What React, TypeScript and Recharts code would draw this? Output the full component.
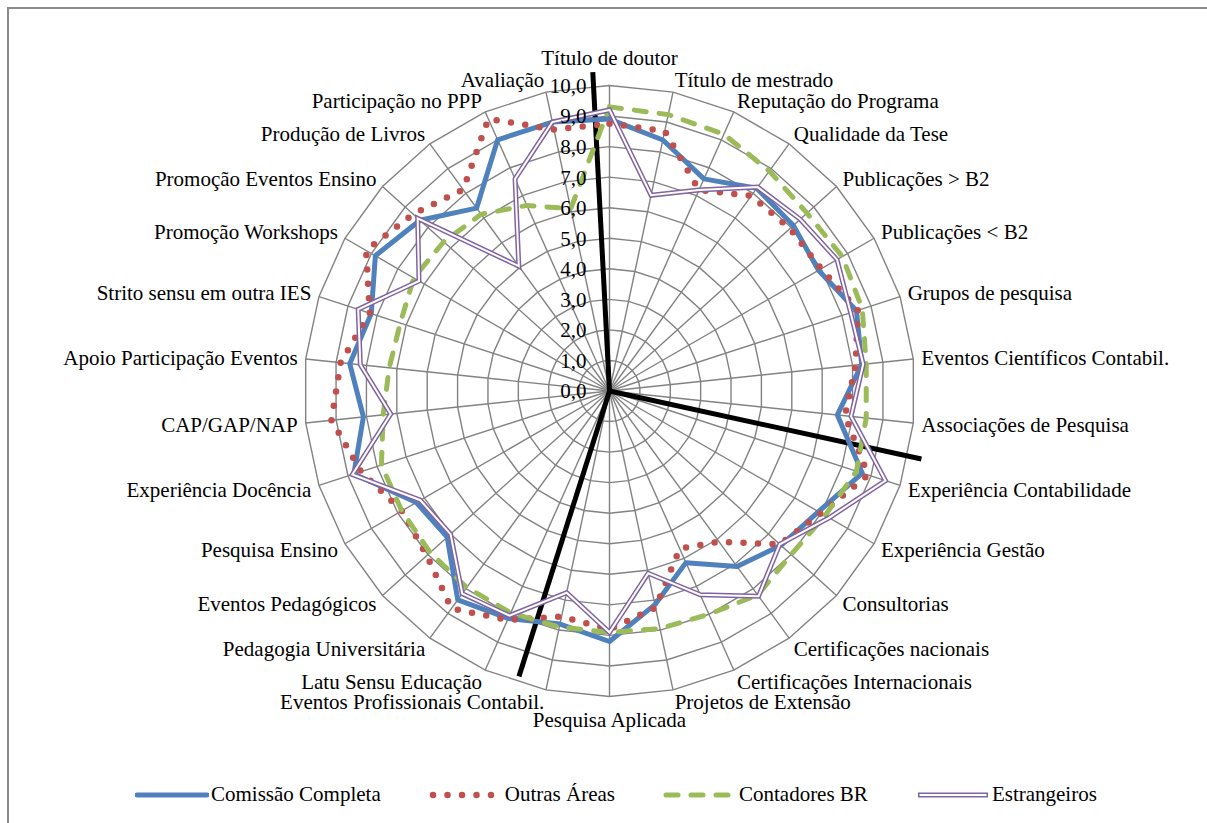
import { RadarChart, Radar, PolarGrid, PolarAngleAxis, PolarRadiusAxis, Legend, Customized } from 'recharts';

const categories = [
  'Título de doutor', 'Título de mestrado', 'Reputação do Programa', 'Qualidade da Tese',
  'Publicações > B2', 'Publicações < B2', 'Grupos de pesquisa', 'Eventos Científicos Contabil.',
  'Associações de Pesquisa', 'Experiência Contabilidade', 'Experiência Gestão', 'Consultorias',
  'Certificações nacionais', 'Certificações Internacionais', 'Projetos de Extensão', 'Pesquisa Aplicada',
  'Eventos Profissionais Contabil.', 'Latu Sensu Educação', 'Pedagogia Universitária', 'Eventos Pedagógicos',
  'Pesquisa Ensino', 'Experiência Docência', 'CAP/GAP/NAP', 'Apoio Participação Eventos',
  'Strito sensu em outra IES', 'Promoção Workshops', 'Promoção Eventos Ensino', 'Produção de Livros',
  'Participação no PPP', 'Avaliação',
];

const comissaoCompleta = [
  8.9, 8.4, 7.6, 8.2, 8.1, 7.9, 8.5, 8.3, 7.5, 8.7, 7.9, 7.55, 7.1, 6.15, 7.15,
  8.2, 7.8, 8.15, 8.45, 7.15, 7.3, 8.8, 8.1, 8.55, 8.2, 8.85, 8.35, 7.4, 9.0, 9.0,
];
const outrasAreas = [
  8.75, 8.7, 7.2, 7.9, 7.95, 8.0, 8.55, 8.1, 7.75, 8.9, 8.0, 7.5, 6.1, 5.65, 7.25,
  7.8, 7.55, 8.2, 8.8, 8.05, 7.85, 8.55, 9.15, 8.85, 8.25, 9.2, 8.65, 8.15, 9.75, 8.75,
];
const contadoresBR = [
  9.3, 9.25, 9.2, 8.9, 8.7, 8.8, 8.7, 8.45, 8.45, 8.5, 8.15, 8.0, 8.25, 8.0, 7.95,
  7.9, 7.9, 7.95, 7.95, 7.9, 7.85, 7.85, 7.45, 7.25, 7.2, 7.4, 7.3, 7.15, 6.65, 6.1,
];
const estrangeiros = [
  9.2, 6.55, 7.2, 8.25, 8.4, 8.6, 8.3, 8.35, 7.95, 9.5, 8.3, 7.5, 8.3, 7.3, 6.1,
  7.9, 6.75, 8.05, 8.2, 7.0, 7.15, 8.85, 7.2, 8.2, 8.65, 7.2, 8.45, 5.05, 7.6, 9.0,
];

const radiusDomain = [0, 10];
const radiusTickCount = 11;

// linhas pretas de separação: direção (graus, sentido horário a partir do topo) e comprimento em unidades do eixo
const separators = [
  { bearing: 357, length: 10.45 },
  { bearing: 102.3, length: 10.45 },
  { bearing: 197.6, length: 9.8 },
];

const data = categories.map((label, i) => ({
  label,
  comissao: comissaoCompleta[i],
  outras: outrasAreas[i],
  contadores: contadoresBR[i],
  estrangeiros: estrangeiros[i],
}));

const CX = 609.5;
const CY = 391;
const OUTER = 305.5;
const FONT = '"Liberation Serif", "Times New Roman", serif';

const BLUE = '#4F81BD';
const RED = '#C0504D';
const GREEN = '#9BBB59';
const PURPLE = '#8064A2';

const AngleTick = (props: any) => {
  const { x, y, payload } = props;
  const t = ((90 - payload.coordinate) * Math.PI) / 180;
  const s = Math.sin(t);
  const c = Math.cos(t);
  let anchor = 'middle';
  let ty = y;
  if (Math.abs(s) < 0.01) {
    ty = c > 0 ? y - 20 : y + 15;
  } else {
    anchor = s > 0 ? 'start' : 'end';
    ty = y - 4.5 * c;
  }
  return (
    <text x={x} y={ty} dy="0.35em" textAnchor={anchor} fontSize={21} fontFamily={FONT} fill="#000">
      {payload.value}
    </text>
  );
};

const RadiusTick = (props: any) => {
  const { x, y, payload } = props;
  return (
    <text x={x - 23} y={y} dy="0.35em" textAnchor="end" fontSize={21} fontFamily={FONT} fill="#000">
      {Number(payload.value).toFixed(1).replace('.', ',')}
    </text>
  );
};

const Separators = () => (
  <g>
    {separators.map((s, i) => {
      const a = (s.bearing * Math.PI) / 180;
      const r = (s.length / radiusDomain[1]) * OUTER;
      return (
        <line key={i} x1={CX} y1={CY} x2={CX + r * Math.sin(a)} y2={CY - r * Math.cos(a)}
          stroke="#000" strokeWidth={5} />
      );
    })}
  </g>
);

const legendItems = [
  { name: 'Comissão Completa', kind: 'solid' },
  { name: 'Outras Áreas', kind: 'dot' },
  { name: 'Contadores BR', kind: 'dash' },
  { name: 'Estrangeiros', kind: 'double' },
];

const Sample = ({ kind }: { kind: string }) => (
  <svg width={74} height={16} style={{ display: 'block' }}>
    {kind === 'solid' && <line x1={2} x2={72} y1={8} y2={8} stroke={BLUE} strokeWidth={5} strokeLinecap="round" />}
    {kind === 'dot' && (
      <line x1={4} x2={64} y1={8} y2={8} stroke={RED} strokeWidth={6.5} strokeDasharray="0 14.5" strokeLinecap="round" />
    )}
    {kind === 'dash' && (
      <line x1={3} x2={66} y1={8} y2={8} stroke={GREEN} strokeWidth={5} strokeDasharray="12 13" strokeLinecap="round" />
    )}
    {kind === 'double' && (
      <g>
        <line x1={2} x2={72} y1={8} y2={8} stroke={PURPLE} strokeWidth={5} />
        <line x1={3.5} x2={70.5} y1={8} y2={8} stroke="#fff" strokeWidth={2} />
      </g>
    )}
  </svg>
);

const renderLegend = () => (
  <div style={{ display: 'flex', alignItems: 'center', gap: 48, fontFamily: FONT, fontSize: 21, color: '#000' }}>
    {legendItems.map((it) => (
      <div key={it.name} style={{ display: 'flex', alignItems: 'center', gap: 2 }}>
        <Sample kind={it.kind} />
        <span>{it.name}</span>
      </div>
    ))}
  </div>
);

export default function App() {
  return (
    <div style={{ position: 'absolute', left: 0, top: 0, width: 1207, height: 823, overflow: 'hidden', background: '#fff' }}>
      <div style={{ position: 'absolute', left: 7, top: 7, width: 1400, height: 1000, borderLeft: '2px solid #8a8a8a', borderTop: '2px solid #8a8a8a' }} />
      <RadarChart width={1207} height={823} data={data} cx={CX} cy={CY} outerRadius={OUTER}
        style={{ position: 'absolute', left: 0, top: 0 }}>
        <PolarGrid gridType="polygon" stroke="#828282" strokeWidth={1.4} />
        <PolarAngleAxis dataKey="label" tick={AngleTick} tickLine={false} axisLine={false} />
        <PolarRadiusAxis angle={90} domain={radiusDomain} tickCount={radiusTickCount} tick={RadiusTick}
          axisLine={false} tickLine={false} />
        <Radar dataKey="comissao" stroke={BLUE} strokeWidth={5} fill="none" strokeLinejoin="round"
          isAnimationActive={false} dot={false} />
        <Radar dataKey="outras" stroke={RED} strokeWidth={6.5} fill="none" strokeDasharray="0 14.5"
          strokeLinecap="round" isAnimationActive={false} dot={false} />
        <Radar dataKey="contadores" stroke={GREEN} strokeWidth={5} fill="none" strokeDasharray="12 13"
          strokeLinecap="round" isAnimationActive={false} dot={false} />
        <Radar dataKey="estrangeiros" stroke={PURPLE} strokeWidth={5} fill="none" strokeLinejoin="miter"
          isAnimationActive={false} dot={false} />
        <Radar dataKey="estrangeiros" stroke="#fff" strokeWidth={2} fill="none" strokeLinejoin="miter"
          isAnimationActive={false} dot={false} legendType="none" />
        <Customized component={Separators} />
        <Legend content={renderLegend} wrapperStyle={{ left: 135, top: 782, width: 1000 }} />
      </RadarChart>
    </div>
  );
}
